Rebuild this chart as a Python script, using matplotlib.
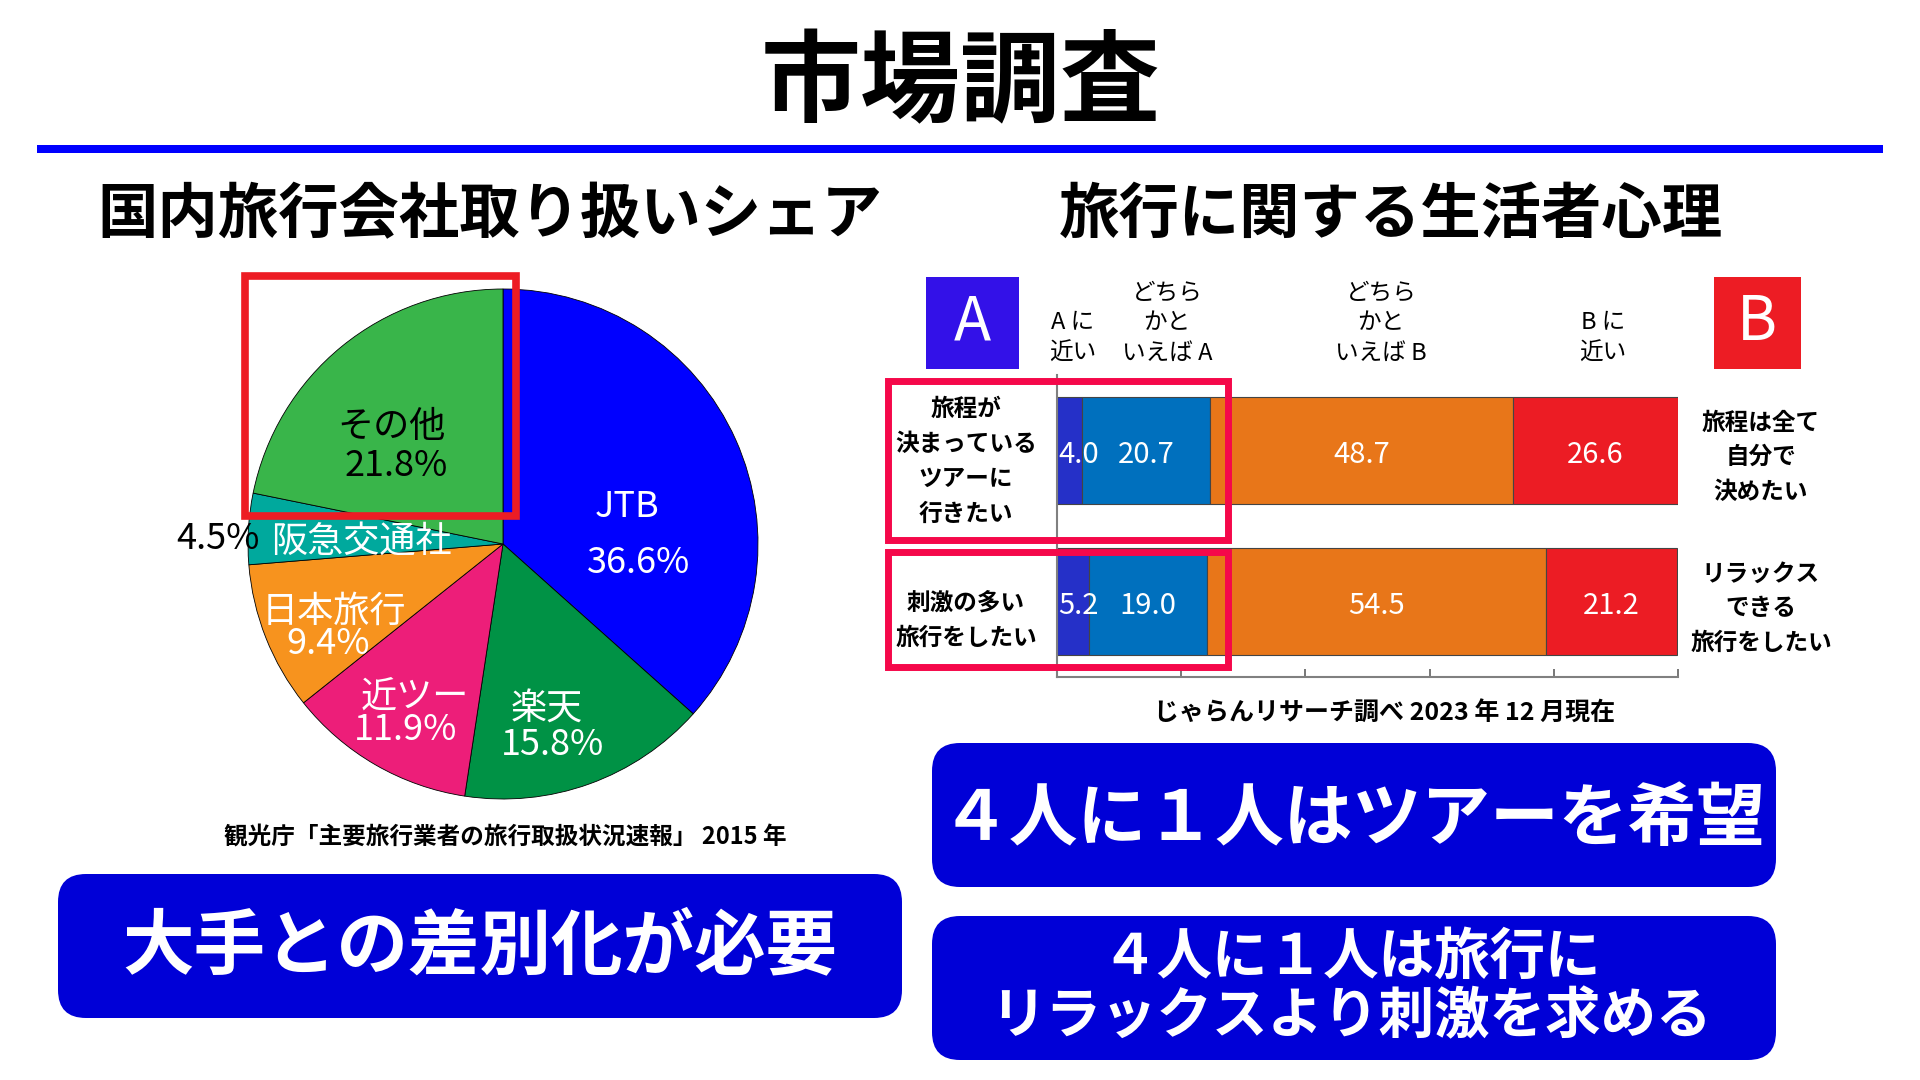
import numpy as np
import matplotlib
matplotlib.use("Agg")
import matplotlib.pyplot as plt
from matplotlib.patches import Rectangle, FancyBboxPatch

plt.rcParams['font.family'] = ['Noto Sans CJK JP', 'DejaVu Sans']

# --- data ---
pie_labels = ['JTB', '楽天', '近ツー', '日本旅行', '阪急交通社', 'その他']
pie_values = [36.6, 15.8, 11.9, 9.4, 4.5, 21.8]
pie_colors = ['#0000FF', '#009245', '#ED1E79', '#F7931E', '#00A99D', '#39B54A']

bar_rows = ['旅程が\n決まっている\nツアーに\n行きたい', '刺激の多い\n旅行をしたい']
bar_rows_b = ['旅程は全て\n自分で\n決めたい', 'リラックス\nできる\n旅行をしたい']
bar_cats = ['A に\n近い', 'どちら\nかと\nいえば A', 'どちら\nかと\nいえば B', 'B に\n近い']
bar_vals = np.array([[4.0, 20.7, 48.7, 26.6],
                     [5.2, 19.0, 54.5, 21.2]])
bar_colors = ['#2530C8', '#0070BE', '#E87619', '#EC1C24']

W, H = 1920, 1080
fig = plt.figure(figsize=(W / 100, H / 100), dpi=100)


def px_axes(l, t, r, b):
    return fig.add_axes([l / W, 1 - b / H, (r - l) / W, (b - t) / H])


# --- pie ---
ax = px_axes(248, 289, 758, 799)
ax.pie(pie_values, colors=pie_colors, startangle=90, counterclock=False,
       wedgeprops=dict(edgecolor='black', linewidth=0.6))
ax.set_xlim(-1, 1)
ax.set_ylim(-1, 1)
lab_pos = {'JTB': [(0.486, 0.147), (0.533, -0.073)],
           '楽天': [(0.173, -0.649), (0.196, -0.790)],
           '近ツー': [(-0.345, -0.598), (-0.384, -0.728)],
           '日本旅行': [(-0.663, -0.265), (-0.686, -0.394)],
           '阪急交通社': [(-0.557, 0.01), (-1.118, 0.021)],
           'その他': [(-0.439, 0.457), (-0.42, 0.304)]}
for name, v in zip(pie_labels, pie_values):
    (x1, y1), (x2, y2) = lab_pos[name]
    c1 = 'black' if name == 'その他' else 'white'
    c2 = 'black' if name in ('その他', '阪急交通社') else 'white'
    ax.text(x1, y1, name, ha='center', va='center', color=c1, fontsize=26)
    ax.text(x2, y2, f'{v}%', ha='center', va='center', color=c2, fontsize=26,
            clip_on=False)

# --- stacked bars ---
bx = px_axes(1057, 375, 1678, 677)
left = np.zeros(len(bar_rows))
for j in range(len(bar_cats)):
    vals = bar_vals[:, j]
    bx.barh(range(len(bar_rows)), vals, left=left, height=0.713,
            color=bar_colors[j], edgecolor='#444444', linewidth=0.8)
    for i, v in enumerate(vals):
        if j == 0:
            # first segment is narrow: label starts at the axis
            bx.text(0.2, i + 0.03, f'{v:.1f}', ha='left', va='center',
                    color='white', fontsize=21)
        else:
            bx.text(left[i] + v / 2, i + 0.03, f'{v:.1f}', ha='center', va='center',
                    color='white', fontsize=21)
    left += vals
bx.set_xlim(0, 100)
bx.set_ylim(1.5, -0.5)
for s in ['top', 'right']:
    bx.spines[s].set_visible(False)
for s in ['left', 'bottom']:
    bx.spines[s].set_color('#808080')
    bx.spines[s].set_linewidth(1.5)
bx.set_xticks(range(0, 101, 20))
bx.set_yticks([])
bx.tick_params(axis='x', direction='in', length=6, width=1.2, color='#606060',
               labelbottom=False)
bx.patch.set_visible(False)

# --- overlay in pixel coordinates ---
ov = fig.add_axes([0, 0, 1, 1])
ov.set_xlim(0, W)
ov.set_ylim(H, 0)
ov.axis('off')
ov.patch.set_visible(False)
ov.set_zorder(10)


def lines(x, yc, text, spacing, **kw):
    parts = text.split('\n')
    n = len(parts)
    for k, p in enumerate(parts):
        ov.text(x, yc + (k - (n - 1) / 2) * spacing, p, ha='center', va='center', **kw)


ov.text(961, 85, '市場調査', ha='center', va='center', fontsize=72, fontweight='bold')
ov.add_patch(Rectangle((37, 145), 1846, 8, color='#0000FF', lw=0))
ov.text(490, 215, '国内旅行会社取り扱いシェア', ha='center', va='center',
        fontsize=43.5, fontweight='bold')
ov.text(1391, 215, '旅行に関する生活者心理', ha='center', va='center',
        fontsize=43.5, fontweight='bold')

# red box over その他
ov.add_patch(Rectangle((245, 276), 271, 240, fill=False, edgecolor='#ED1C24', lw=5.5))
ov.text(505, 838, '観光庁「主要旅行業者の旅行取扱状況速報」 2015 年', ha='center',
        va='center', fontsize=17, fontweight='bold')

# A / B boxes
ov.add_patch(Rectangle((926, 277), 93, 92, color='#3311E8', lw=0))
ov.text(972, 323, 'A', ha='center', va='center', color='white', fontsize=44)
ov.add_patch(Rectangle((1714, 277), 87, 92, color='#ED1C24', lw=0))
ov.text(1757, 323, 'B', ha='center', va='center', color='white', fontsize=44)

# column headers
header_x = [1073, 1167, 1381, 1603]
for hx, cat in zip(header_x, bar_cats):
    n = len(cat.split('\n'))
    lines(hx, 353 - (n - 1) * 30 / 2, cat, 30, fontsize=17)

# row labels
lines(966, 461, bar_rows[0], 35, fontsize=17, fontweight='bold')
lines(966, 620, bar_rows[1], 35, fontsize=17, fontweight='bold')
lines(1761, 457, bar_rows_b[0], 34.5, fontsize=17, fontweight='bold')
lines(1761, 608, bar_rows_b[1], 34.5, fontsize=17, fontweight='bold')

# highlight boxes
ov.add_patch(Rectangle((888, 381), 340, 159, fill=False, edgecolor='#F5084A', lw=5))
ov.add_patch(Rectangle((888, 552), 340, 115, fill=False, edgecolor='#F5084A', lw=5))
ov.text(1385, 714, 'じゃらんリサーチ調べ 2023 年 12 月現在', ha='center', va='center',
        fontsize=18, fontweight='bold')

# conclusion boxes
box_c = '#0000D7'
for (x0, y0, x1, y1) in [(58, 874, 902, 1018), (932, 743, 1776, 887), (932, 916, 1776, 1060)]:
    ov.add_patch(FancyBboxPatch((x0, y0), x1 - x0, y1 - y0,
                                boxstyle='round,pad=0,rounding_size=28',
                                facecolor=box_c, edgecolor='none'))
ov.text(480, 947, '大手との差別化が必要', ha='center', va='center', color='white',
        fontsize=51.5, fontweight='bold')
ov.text(1353, 820, '４人に１人はツアーを希望', ha='center', va='center', color='white',
        fontsize=49.5, fontweight='bold')
ov.text(1351, 958, '４人に１人は旅行に', ha='center', va='center', color='white',
        fontsize=40, fontweight='bold')
ov.text(1351, 1017, 'リラックスより刺激を求める', ha='center', va='center', color='white',
        fontsize=40, fontweight='bold')

fig.savefig('out.png', dpi=100)
